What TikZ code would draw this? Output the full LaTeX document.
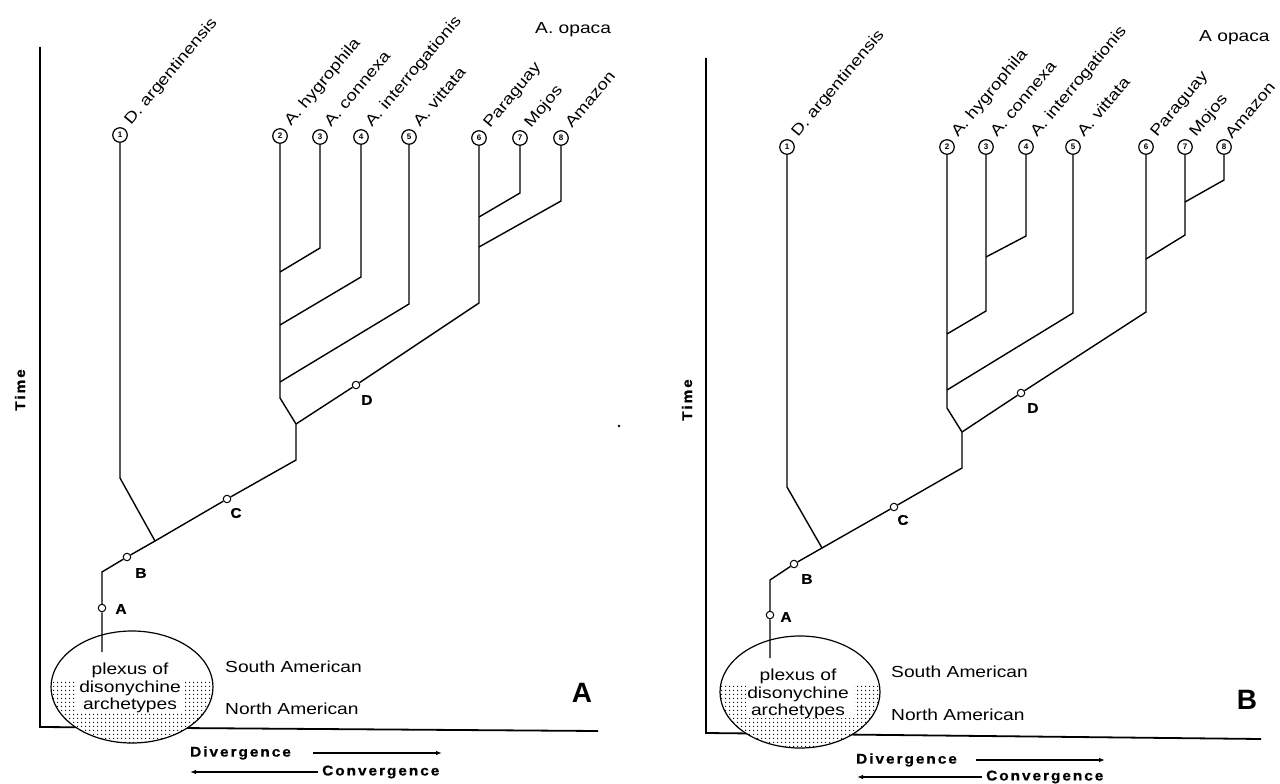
\documentclass[tikz,border=0pt]{standalone}
\usepackage{fontspec}
\setmainfont{Liberation Sans}
\newfontfamily\widefont[FakeStretch=1.2]{Liberation Sans}
\newfontfamily\spacedfont[FakeStretch=1.1,LetterSpace=14,FakeBold=0.6]{Liberation Sans Bold}
\usetikzlibrary{patterns,arrows.meta}
\pgfdeclarepatternformonly{stip}{\pgfpointorigin}{\pgfpoint{4pt}{4pt}}{\pgfpoint{4pt}{4pt}}{%
  \pgfpathcircle{\pgfpoint{2pt}{2pt}}{0.8pt}\pgfusepath{fill}}
\tikzset{
 tree/.style={line width=1.4pt},
 axisline/.style={line width=1.8pt},
 tipnode/.style={circle,draw,fill=white,line width=1.2pt,minimum size=14.5pt,inner sep=0pt,font=\fontsize{8}{8}\selectfont\bfseries},
 mk/.style={circle,draw,fill=white,line width=1pt,minimum size=7.5pt,inner sep=0pt},
 mklab/.style={inner sep=0pt,font=\spacedfont\fontsize{14}{14}\selectfont},
 taxon/.style={rotate=50,anchor=base west,inner sep=0pt,font=\widefont\fontsize{15.5}{15.5}\selectfont},
 plain/.style={inner sep=0pt,font=\widefont\fontsize{16}{17.5}\selectfont},
 boldlab/.style={inner sep=0pt,font=\spacedfont\fontsize{14}{14}\selectfont},
 panel/.style={inner sep=0pt,font=\bfseries\fontsize{28}{28}\selectfont},
 arr/.style={line width=1.2pt,-{Latex[length=6pt,width=4.5pt]}},
 ell/.style={line width=1.2pt},
}
\begin{document}
\begin{tikzpicture}[x=1pt,y=-1pt]
\useasboundingbox (0,0) rectangle (1280,784);
\fill[white] (0,0) rectangle (1280,784);

%================ LEFT PANEL ================
\coordinate (LyT) at (40,47);
\coordinate (Lo) at (40,727);
\coordinate (LxR) at (598,731);
\draw[axisline] (LyT) -- (Lo) -- (LxR);
\node[boldlab,rotate=90] (Ltime) at (20,390) {Time};

\begin{scope}
\clip (132,687) ellipse [x radius=81,y radius=56];
\fill[white] (40,620) rectangle (220,750);
\fill[pattern=stip] (40,680) rectangle (220,750);
\fill[white] (77,679) rectangle (185,713);
\end{scope}
\draw[ell] (132,687) ellipse [x radius=81,y radius=56];
\node[plain,align=center] (Lplex) at (130,688) {plexus of\\disonychine\\archetypes};

\node[plain,anchor=west] (Lsa) at (225,667) {South American};
\node[plain,anchor=west] (Lna) at (225,709) {North American};
\node[panel] (Lpanel) at (582,693) {A};

\node[boldlab,anchor=west] (Ldiv) at (190,753) {Divergence};
\coordinate (Lda) at (313,753); \coordinate (Ldb) at (442,753);
\draw[arr] (Lda) -- (Ldb);
\node[boldlab,anchor=west] (Lconv) at (322,772) {Convergence};
\coordinate (Lca) at (318,772); \coordinate (Lcb) at (190,772);
\draw[arr] (Lca) -- (Lcb);

\node[plain,anchor=west] (Lopaca) at (535,30) {A. opaca};
\fill (619,426) circle (1.3);

% tips
\node[tipnode] (L1) at (120,135) {1};
\node[tipnode] (L2) at (280,136) {2};
\node[tipnode] (L3) at (320,137) {3};
\node[tipnode] (L4) at (361,137) {4};
\node[tipnode] (L5) at (409,137) {5};
\node[tipnode] (L6) at (479,138) {6};
\node[tipnode] (L7) at (520,138) {7};
\node[tipnode] (L8) at (561,138) {8};
\node[taxon] (Lt1n) at (131,126) {D. argentinensis};
\node[taxon] (Lt2n) at (291,127) {A. hygrophila};
\node[taxon] (Lt3n) at (331,128) {A. connexa};
\node[taxon] (Lt4n) at (372,128) {A. interrogationis};
\node[taxon] (Lt5n) at (420,128) {A. vittata};
\node[taxon] (Lt6n) at (490,129) {Paraguay};
\node[taxon] (Lt7n) at (531,129) {Mojos};
\node[taxon] (Lt8n) at (572,129) {Amazon};

% markers
\node[mk] (LA) at (102,608) {};
\node[mk] (LB) at (127,557) {};
\node[mk] (LC) at (227,499) {};
\node[mk] (LD) at (356,385) {};
\node[mklab] (LAl) at (121,609) {A};
\node[mklab] (LBl) at (141,573) {B};
\node[mklab] (LCl) at (236,513) {C};
\node[mklab] (LDl) at (367,400) {D};

\coordinate (Lr0) at (102,652);
\coordinate (Lk) at (102,572);
\coordinate (LJ1) at (155,541);
\coordinate (Lm) at (296,460);
\coordinate (LJ2) at (296,424);
\coordinate (Lq) at (280,398);
\coordinate (Lr) at (479,303);
\coordinate (Lb1) at (120,478);
\coordinate (Lj5) at (280,382); \coordinate (Lt5) at (409,304);
\coordinate (Lj4) at (280,325); \coordinate (Lt4) at (361,277);
\coordinate (Lj3) at (280,272); \coordinate (Lt3) at (320,248);
\coordinate (Lj7) at (479,217); \coordinate (Lt7) at (520,193);
\coordinate (Lj8) at (479,247); \coordinate (Lt8) at (561,201);

\draw[tree] (Lr0) -- (LA) -- (Lk) -- (LB) -- (LJ1) -- (LC) -- (Lm) -- (LJ2) -- (Lq) -- (L2);
\draw[tree] (LJ2) -- (LD) -- (Lr) -- (L6);
\draw[tree] (LJ1) -- (Lb1) -- (L1);
\draw[tree] (Lj5) -- (Lt5) -- (L5);
\draw[tree] (Lj4) -- (Lt4) -- (L4);
\draw[tree] (Lj3) -- (Lt3) -- (L3);
\draw[tree] (Lj7) -- (Lt7) -- (L7);
\draw[tree] (Lj8) -- (Lt8) -- (L8);

%================ RIGHT PANEL ================
\coordinate (RyT) at (706,58);
\coordinate (Ro) at (706,733);
\coordinate (RxR) at (1261,739);
\draw[axisline] (RyT) -- (Ro) -- (RxR);
\node[boldlab,rotate=90] (Rtime) at (687,400) {Time};

\begin{scope}
\clip (800,692) ellipse [x radius=80,y radius=56];
\fill[white] (710,630) rectangle (890,760);
\fill[pattern=stip] (710,685) rectangle (890,760);
\fill[white] (746,684) rectangle (854,718);
\end{scope}
\draw[ell] (800,692) ellipse [x radius=80,y radius=56];
\node[plain,align=center] (Rplex) at (798,694) {plexus of\\disonychine\\archetypes};

\node[plain,anchor=west] (Rsa) at (891,672) {South American};
\node[plain,anchor=west] (Rna) at (891,715) {North American};
\node[panel] (Rpanel) at (1247,700) {B};

\node[boldlab,anchor=west] (Rdiv) at (856,760) {Divergence};
\coordinate (Rda) at (976,760); \coordinate (Rdb) at (1105,760);
\draw[arr] (Rda) -- (Rdb);
\node[boldlab,anchor=west] (Rconv) at (986,777) {Convergence};
\coordinate (Rca) at (982,777); \coordinate (Rcb) at (857,777);
\draw[arr] (Rca) -- (Rcb);

\node[plain,anchor=west] (Ropaca) at (1199,38) {A opaca};

\node[tipnode] (R1) at (787,147) {1};
\node[tipnode] (R2) at (947,147) {2};
\node[tipnode] (R3) at (986,147) {3};
\node[tipnode] (R4) at (1026,147) {4};
\node[tipnode] (R5) at (1073,147) {5};
\node[tipnode] (R6) at (1146,147) {6};
\node[tipnode] (R7) at (1185,147) {7};
\node[tipnode] (R8) at (1224,147) {8};
\node[taxon] (Rt1n) at (798,138) {D. argentinensis};
\node[taxon] (Rt2n) at (958,138) {A. hygrophila};
\node[taxon] (Rt3n) at (997,138) {A. connexa};
\node[taxon] (Rt4n) at (1037,138) {A. interrogationis};
\node[taxon] (Rt5n) at (1084,138) {A. vittata};
\node[taxon] (Rt6n) at (1157,138) {Paraguay};
\node[taxon] (Rt7n) at (1196,138) {Mojos};
\node[taxon] (Rt8n) at (1232,140) {Amazon};

\node[mk] (RA) at (770,615) {};
\node[mk] (RB) at (794,564) {};
\node[mk] (RC) at (894,507) {};
\node[mk] (RD) at (1021,393) {};
\node[mklab] (RAl) at (786,617) {A};
\node[mklab] (RBl) at (807,579) {B};
\node[mklab] (RCl) at (903,520) {C};
\node[mklab] (RDl) at (1033,408) {D};

\coordinate (Rr0) at (770,658);
\coordinate (Rk) at (770,580);
\coordinate (RJ1) at (822,548);
\coordinate (Rm) at (962,468);
\coordinate (RJ2) at (962,432);
\coordinate (Rq) at (947,408);
\coordinate (Rr) at (1146,312);
\coordinate (Rb1) at (787,487);
\coordinate (Rj5) at (947,390); \coordinate (Rt5) at (1073,313);
\coordinate (Rj3) at (947,334); \coordinate (Rt3) at (986,311);
\coordinate (Rj4) at (986,257); \coordinate (Rt4) at (1026,236);
\coordinate (Rj7) at (1146,259); \coordinate (Rt7) at (1185,235);
\coordinate (Rj8) at (1185,202); \coordinate (Rt8) at (1224,180);

\draw[tree] (Rr0) -- (RA) -- (Rk) -- (RB) -- (RJ1) -- (RC) -- (Rm) -- (RJ2) -- (Rq) -- (R2);
\draw[tree] (RJ2) -- (RD) -- (Rr) -- (R6);
\draw[tree] (RJ1) -- (Rb1) -- (R1);
\draw[tree] (Rj5) -- (Rt5) -- (R5);
\draw[tree] (Rj3) -- (Rt3) -- (R3);
\draw[tree] (Rj4) -- (Rt4) -- (R4);
\draw[tree] (Rj7) -- (Rt7) -- (R7);
\draw[tree] (Rj8) -- (Rt8) -- (R8);
\end{tikzpicture}
\end{document}
